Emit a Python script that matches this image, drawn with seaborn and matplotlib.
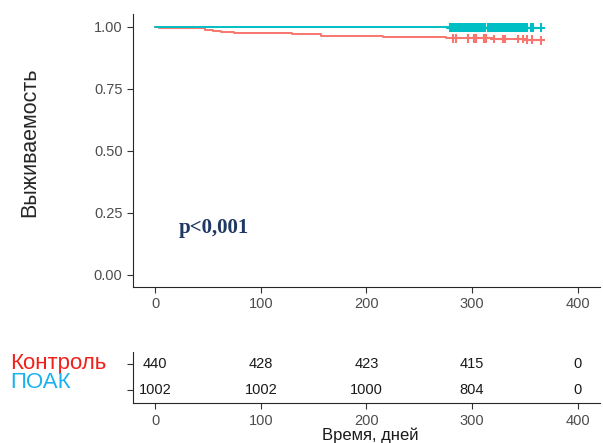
import numpy as np
import pandas as pd
import matplotlib
matplotlib.use("Agg")
import matplotlib.pyplot as plt
import seaborn as sns

# survival steps
ctrl_t = [0, 4, 20, 47, 55, 62, 75, 100, 130, 157, 165, 216, 250, 275, 320, 350, 365]
ctrl_s = [1.0, 0.995, 0.993, 0.988, 0.984, 0.978, 0.975, 0.973, 0.970, 0.964,
          0.961, 0.959, 0.956, 0.953, 0.950, 0.947, 0.945]
poak_t = [0, 138, 280, 365]
poak_s = [1.0, 0.997, 0.995, 0.995]

# censoring marks
ctrl_cens = [282, 285, 296, 302, 304, 311, 313, 321, 329, 331, 344, 348, 352, 357, 365]
poak_cens = [279, 280, 281, 282, 283, 284, 285, 286, 287, 288, 289, 290, 291, 292,
             293, 294, 295, 296, 297, 298, 299, 300, 301, 302, 303, 304, 305, 306,
             307, 308, 309, 310, 311, 312, 315, 316, 317, 318, 319, 320, 321, 322,
             323, 324, 325, 326, 327, 328, 329, 330, 331, 332, 333, 334, 335, 336,
             337, 338, 339, 340, 341, 342, 343, 344, 345, 346, 347, 348, 349, 350,
             351, 352, 356, 357, 358, 365]

# number at risk table
risk_times = [0, 100, 200, 300, 400]
risk_ctrl = [440, 428, 423, 415, 0]
risk_poak = [1002, 1002, 1000, 804, 0]

groups = ["Контроль", "ПОАК"]
colors = {"Контроль": "#F8766D", "ПОАК": "#00BFC4"}
label_colors = ["#F0201A", "#1AB2EE"]

sns.set_style("ticks")
plt.rcParams["font.family"] = ["Liberation Sans", "DejaVu Sans"]

curves = pd.concat([
    pd.DataFrame({"time": ctrl_t, "surv": ctrl_s, "group": "Контроль"}),
    pd.DataFrame({"time": poak_t, "surv": poak_s, "group": "ПОАК"}),
])


def surv_at(times, surv, pts):
    idx = np.searchsorted(times, pts, side="right") - 1
    return np.asarray(surv)[idx]


cens = pd.concat([
    pd.DataFrame({"time": ctrl_cens, "surv": surv_at(ctrl_t, ctrl_s, ctrl_cens),
                  "group": "Контроль"}),
    pd.DataFrame({"time": poak_cens, "surv": surv_at(poak_t, poak_s, poak_cens),
                  "group": "ПОАК"}),
])

fig = plt.figure(figsize=(6.03, 4.43), dpi=100)
ax = fig.add_axes([0.2206, 0.352, 0.774, 0.616])
ax2 = fig.add_axes([0.2206, 0.090, 0.774, 0.115])

sns.lineplot(data=curves, x="time", y="surv", hue="group", palette=colors,
             drawstyle="steps-post", estimator=None, linewidth=1.4,
             legend=False, ax=ax)
sns.scatterplot(data=cens, x="time", y="surv", hue="group", palette=colors,
                marker="+", s=40, linewidth=1.5, legend=False, ax=ax)

ax.set_xlim(-21, 421)
ax.set_ylim(-0.05, 1.05)
ax.set_xticks([0, 100, 200, 300, 400])
ax.set_yticks([0, 0.25, 0.5, 0.75, 1.0])
ax.set_yticklabels(["0.00", "0.25", "0.50", "0.75", "1.00"])
ax.set_xlabel("")
ax.set_ylabel("")
ax.tick_params(labelsize=10.5, labelcolor="#4D4D4D", color="#333333", length=4)
sns.despine(ax=ax)
ax.text(22, 0.19, "p<0,001", fontsize=15, fontweight="bold", color="#1F3864",
        family="Liberation Serif", va="center", ha="left")

fig.text(0.05, 0.68, "Выживаемость", rotation=90, fontsize=15.5,
         ha="center", va="center")

# risk table
for t, n in zip(risk_times, risk_ctrl):
    ax2.text(t, 2, str(n), ha="center", va="center", fontsize=10.5, color="#1A1A1A")
for t, n in zip(risk_times, risk_poak):
    ax2.text(t, 1, str(n), ha="center", va="center", fontsize=10.5, color="#1A1A1A")
ax2.set_xlim(-21, 421)
ax2.set_ylim(0.5, 2.45)
ax2.set_xticks(risk_times)
ax2.set_yticks([1, 2])
ax2.set_yticklabels([])
ax2.tick_params(labelsize=10.5, labelcolor="#4D4D4D", color="#333333", length=4)
sns.despine(ax=ax2)
ax2.set_xlabel("")
fig.text(0.614, 1 - 435 / 443, "Время, дней", fontsize=12, color="#1A1A1A",
         ha="center", va="center")

fig.text(10 / 603, 1 - 364 / 443, groups[0], color=label_colors[0], fontsize=16,
         ha="left", va="center")
fig.text(10 / 603, 1 - 383 / 443, groups[1], color=label_colors[1], fontsize=16,
         ha="left", va="center")

fig.savefig("out.png", dpi=100)
